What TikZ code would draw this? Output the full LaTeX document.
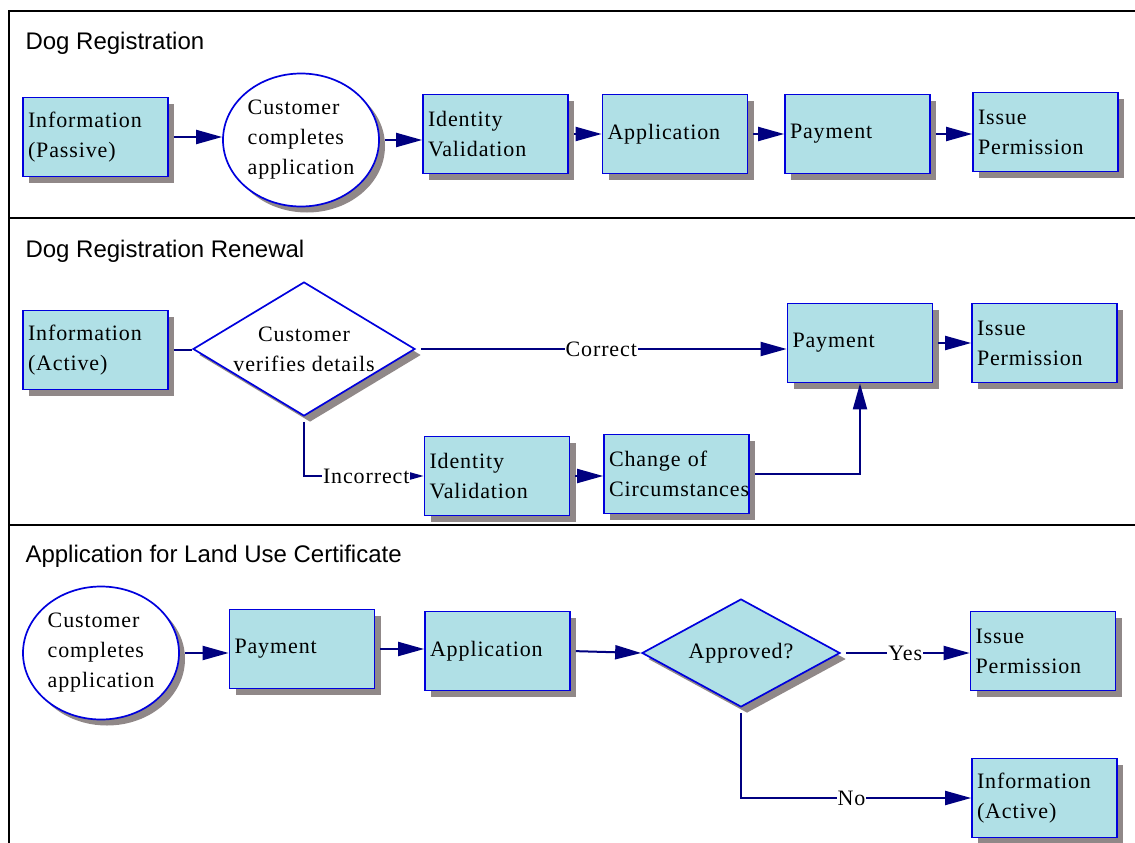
\documentclass[tikz,border=0pt]{standalone}
\usepackage{fontspec}
\usepackage{xcolor}
\usetikzlibrary{shapes.geometric,shadows,arrows.meta}
\setmainfont{Liberation Serif}
\newfontfamily\boxfont[LetterSpace=4]{Liberation Serif}
\newfontfamily\headfont{Liberation Sans}
\definecolor{boxfill}{HTML}{B0E0E6}
\definecolor{boxline}{HTML}{0000DD}
\definecolor{shade}{HTML}{908888}
\definecolor{flowline}{HTML}{000080}

\begin{document}
\begin{tikzpicture}[x=1pt,y=-1pt,
	shadowed/.style={drop shadow={shadow xshift=6pt,shadow yshift=-6pt,fill=shade,opacity=1}},
	boxtext/.style={font=\boxfont\fontsize{22}{30}\selectfont},
	task/.style={rectangle,draw=boxline,line width=1.7pt,fill=boxfill,shadowed,boxtext,
		minimum width=145pt,minimum height=79pt,text width=135pt,inner sep=5pt,align=left},
	start/.style={ellipse,draw=boxline,line width=1.7pt,fill=white,shadowed,boxtext,
		minimum width=156pt,minimum height=133pt,inner sep=0pt,align=left},
	check/.style={diamond,draw=boxline,line width=1.7pt,shadowed,boxtext,inner sep=0pt,align=center},
	lane/.style={font=\headfont\fontsize{24}{28}\selectfont,anchor=west},
	flow/.style={draw=flowline,line width=2pt,shorten <=5pt,-{Triangle[length=26pt,width=14pt]}},
	link/.style={draw=flowline,line width=2pt,shorten <=5pt},
	lbl/.style={fill=white,inner sep=1pt,boxtext}]
	\useasboundingbox (0,0) rectangle (1135,843);
	\draw[line width=2pt] (1135,11) -- (9,11) -- (9,843);
	\draw[line width=2pt] (9,218) -- (1135,218);
	\draw[line width=2pt] (9,525) -- (1135,525);
	
	\node[lane] (lane1) at (22,43) {Dog Registration};
	\node[task] (info1) at (95.5,137) {Information\\(Passive)};
	\node[start] (cust1) at (301,140) {Customer\\completes\\application};
	\node[task] (idv1) at (495.5,134) {Identity\\Validation};
	\node[task] (app1) at (675,134) {Application};
	\node[task] (pay1) at (857.5,134) {Payment};
	\node[task] (iss1) at (1045.5,132) {Issue\\Permission};
	\draw[flow] (info1.east) -- (info1.east -| cust1.west);
	\draw[flow] (cust1.east) -- (cust1.east -| idv1.west);
	\draw[flow] (idv1.east) -- (idv1.east -| app1.west);
	\draw[flow] (app1.east) -- (app1.east -| pay1.west);
	\draw[flow] (pay1.east) -- (pay1.east -| iss1.west);
	
	\node[lane] (lane2) at (22,251) {Dog Registration Renewal};
	\node[task] (info2) at (95.5,350) {Information\\(Active)};
	\node[check,fill=white,aspect=1.66,minimum width=222pt,minimum height=134pt] (verify) at (304,349) {Customer\\verifies details};
	\node[task] (pay2) at (860,343) {Payment};
	\node[task] (iss2) at (1044.5,343) {Issue\\Permission};
	\node[task] (idv2) at (497,476) {Identity\\Validation};
	\node[task] (coc2) at (676.5,474) {Change of\\Circumstances};
	\draw[link] (info2.east) -- (info2.east -| verify.west);
	\draw[flow] (verify.east) -- node[lbl] {Correct} (verify.east -| pay2.west);
	\draw[flow] (pay2.east) -- (pay2.east -| iss2.west);
	\draw[flow] (verify.south) |- node[lbl,pos=0.76] {Incorrect} (idv2.west);
	\draw[flow] (idv2.east) -- (idv2.east -| coc2.west);
	\draw[flow] (coc2.east) -| (pay2.south);
	
	\node[lane] (lane3) at (22,556) {Application for Land Use Certificate};
	\node[start] (cust3) at (101,653) {Customer\\completes\\application};
	\node[task] (pay3) at (302,649) {Payment};
	\node[task] (app3) at (497.5,651) {Application};
	\node[check,fill=boxfill,aspect=1.8,minimum width=198pt,minimum height=108pt] (appr) at (741,653) {Approved?};
	\node[task] (iss3) at (1043,651) {Issue\\Permission};
	\node[task] (info3) at (1044.5,798) {Information\\(Active)};
	\draw[flow] (cust3.east) -- (cust3.east -| pay3.west);
	\draw[flow] (pay3.east) -- (pay3.east -| app3.west);
	\draw[flow] (app3.east) -- (appr.west);
	\draw[flow] (appr.east) -- node[lbl] {Yes} (appr.east -| iss3.west);
	\draw[flow] (appr.south) |- node[lbl,pos=0.74] {No} (info3.west);
	
\end{tikzpicture}
\end{document}
